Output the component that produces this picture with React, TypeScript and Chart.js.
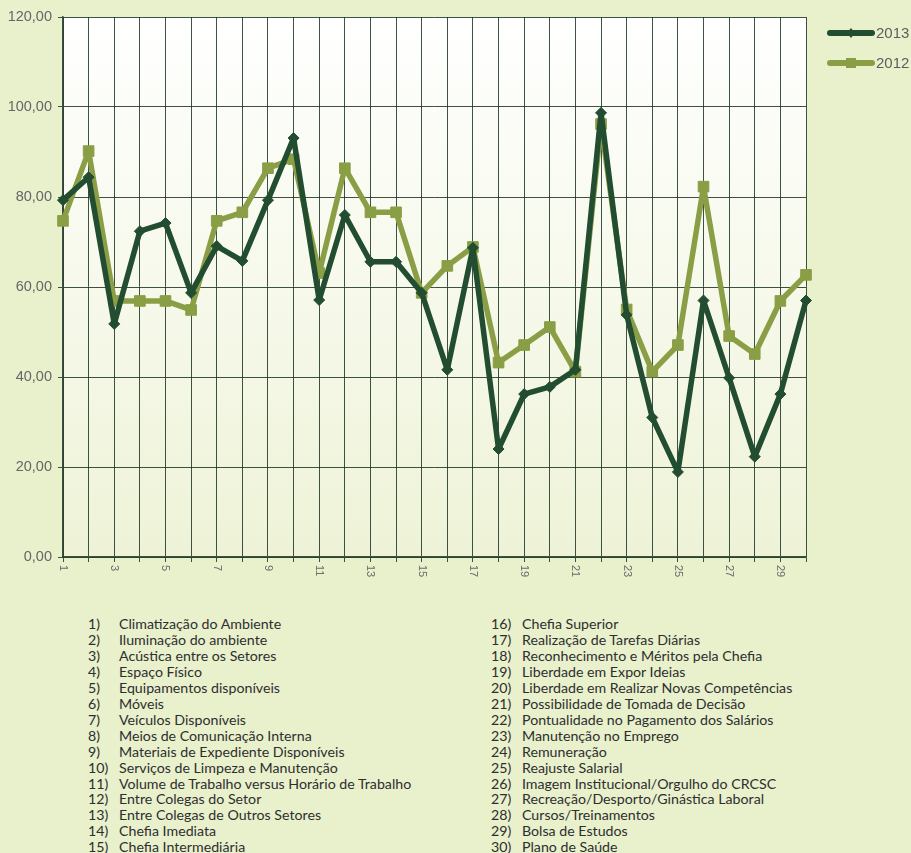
import React, { useEffect, useRef } from "react";
import { Chart, registerables } from "chart.js";

Chart.register(...registerables);

const categories = Array.from({ length: 30 }, (_, i) => String(i + 1));

const series2013 = [
  79.3, 84.4, 51.8, 72.4, 74.2, 58.7, 69.1, 65.8, 79.3, 93.1,
  57.1, 76.0, 65.6, 65.6, 58.7, 41.6, 68.7, 24.0, 36.2, 37.8,
  41.6, 98.7, 53.8, 31.0, 18.9, 57.0, 39.8, 22.3, 36.2, 57.0,
];

const series2012 = [
  74.7, 90.2, 56.9, 56.9, 56.9, 54.9, 74.7, 76.6, 86.4, 88.4,
  63.1, 86.4, 76.6, 76.6, 58.7, 64.7, 68.9, 43.2, 47.1, 51.1,
  41.2, 96.2, 55.0, 41.2, 47.1, 82.3, 49.1, 45.1, 56.9, 62.7,
];

const seriesNames = ["2013", "2012"];

const yTicks = [0, 20, 40, 60, 80, 100, 120];

const itemNames = [
  "Climatização do Ambiente",
  "Iluminação do ambiente",
  "Acústica entre os Setores",
  "Espaço Físico",
  "Equipamentos disponíveis",
  "Móveis",
  "Veículos Disponíveis",
  "Meios de Comunicação Interna",
  "Materiais de Expediente Disponíveis",
  "Serviços de Limpeza e Manutenção",
  "Volume de Trabalho versus Horário de Trabalho",
  "Entre Colegas do Setor",
  "Entre Colegas de Outros Setores",
  "Chefia Imediata",
  "Chefia Intermediária",
  "Chefia Superior",
  "Realização de Tarefas Diárias",
  "Reconhecimento e Méritos pela Chefia",
  "Liberdade em Expor Ideias",
  "Liberdade em Realizar Novas Competências",
  "Possibilidade de Tomada de Decisão",
  "Pontualidade no Pagamento dos Salários",
  "Manutenção no Emprego",
  "Remuneração",
  "Reajuste Salarial",
  "Imagem Institucional/Orgulho do CRCSC",
  "Recreação/Desporto/Ginástica Laboral",
  "Cursos/Treinamentos",
  "Bolsa de Estudos",
  "Plano de Saúde",
];

const DARK = "#234d31";
const LIGHT = "#8a9e45";
const BG = "#e8f0cc";
const GRID = "rgba(28,52,36,0.85)";

const bgPlugin = {
  id: "plotBg",
  beforeDraw(chart: any) {
    const { ctx, chartArea } = chart;
    if (!chartArea) return;
    const g = ctx.createLinearGradient(0, chartArea.top, 0, chartArea.bottom);
    g.addColorStop(0, "#ffffff");
    g.addColorStop(1, "#eef3d7");
    ctx.save();
    ctx.fillStyle = g;
    ctx.fillRect(chartArea.left, chartArea.top, chartArea.right - chartArea.left, chartArea.bottom - chartArea.top);
    ctx.restore();
  },
};

const xLabelPlugin = {
  id: "xLabels",
  afterDraw(chart: any) {
    const { ctx, chartArea } = chart;
    const xs = chart.scales.x;
    ctx.save();
    ctx.fillStyle = "#6b6b6b";
    ctx.font = "11px 'Liberation Sans', Arial, sans-serif";
    ctx.textAlign = "left";
    ctx.textBaseline = "middle";
    categories.forEach((c, i) => {
      if (i % 2 !== 0) return;
      const x = xs.getPixelForValue(i);
      ctx.save();
      ctx.translate(x, chartArea.bottom + 8);
      ctx.rotate(Math.PI / 2);
      ctx.fillText(c, 0, 0);
      ctx.restore();
    });
    ctx.restore();
  },
};

const legendPlugin = {
  id: "customLegend",
  afterDraw(chart: any) {
    const { ctx } = chart;
    ctx.save();
    chart.data.datasets.forEach((ds: any, i: number) => {
      const y = 33 + i * 30;
      const x0 = 830;
      const x1 = 872;
      ctx.strokeStyle = ds.borderColor;
      ctx.lineWidth = 6;
      ctx.lineCap = "round";
      ctx.beginPath();
      ctx.moveTo(x0, y);
      ctx.lineTo(x1, y);
      ctx.stroke();
      const cx = (x0 + x1) / 2;
      ctx.fillStyle = ds.pointBackgroundColor;
      ctx.beginPath();
      if (ds.pointStyle === "rectRot") {
        ctx.moveTo(cx, y - 5);
        ctx.lineTo(cx + 4, y);
        ctx.lineTo(cx, y + 5);
        ctx.lineTo(cx - 4, y);
        ctx.closePath();
      } else {
        ctx.rect(cx - 5, y - 5, 10, 10);
      }
      ctx.fill();
      ctx.fillStyle = "#5e5e5e";
      ctx.font = "15px 'Liberation Sans', Arial, sans-serif";
      ctx.textAlign = "left";
      ctx.textBaseline = "middle";
      ctx.fillText(ds.label, 876, y + 1);
    });
    ctx.restore();
  },
};

function ChartBox() {
  const ref = useRef<HTMLCanvasElement | null>(null);
  useEffect(() => {
    if (!ref.current) return;
    const chart = new Chart(ref.current, {
      type: "line",
      data: {
        labels: categories,
        datasets: [
          {
            label: seriesNames[0],
            data: series2013,
            borderColor: DARK,
            backgroundColor: DARK,
            pointBackgroundColor: DARK,
            pointBorderColor: DARK,
            borderWidth: 5.5,
            borderJoinStyle: "round",
            pointStyle: "rectRot",
            pointRadius: 5.5,
            pointBorderWidth: 1,
            tension: 0,
          },
          {
            label: seriesNames[1],
            data: series2012,
            borderColor: LIGHT,
            backgroundColor: LIGHT,
            pointBackgroundColor: LIGHT,
            pointBorderColor: LIGHT,
            borderWidth: 5.5,
            borderJoinStyle: "round",
            pointStyle: "rect",
            pointRadius: 7.5,
            pointBorderWidth: 1,
            tension: 0,
          },
        ],
      },
      options: {
        animation: false,
        responsive: false,
        maintainAspectRatio: false,
        layout: { padding: { top: 17, right: 105, left: 0, bottom: 0 } },
        plugins: {
          legend: { display: false },
          tooltip: { enabled: false },
        },
        scales: {
          x: {
            offset: false,
            grid: { color: GRID, lineWidth: 1, tickLength: 5, drawTicks: true, offset: false },
            border: { color: GRID, width: 1.5 },
            ticks: { display: false, autoSkip: false },
            afterFit(scale: any) {
              scale.height = 43;
            },
          },
          y: {
            min: 0,
            max: 120,
            afterBuildTicks(scale: any) {
              scale.ticks = yTicks.map((v) => ({ value: v }));
            },
            grid: { color: GRID, lineWidth: 1, tickLength: 5 },
            border: { color: GRID, width: 1.5 },
            ticks: {
              color: "#666666",
              padding: 6,
              font: { family: "'Liberation Sans', Arial, sans-serif", size: 14.5 },
              callback: (v: any) => Number(v).toFixed(2).replace(".", ","),
            },
            afterFit(scale: any) {
              scale.width = 63;
            },
          },
        },
      },
      plugins: [bgPlugin, xLabelPlugin, legendPlugin],
    });
    return () => chart.destroy();
  }, []);
  return <canvas ref={ref} width={911} height={600} style={{ position: "absolute", left: 0, top: 0, width: 911, height: 600 }} />;
}

export default function App() {
  const rowH = 15.95;
  const listStyle: React.CSSProperties = {
    position: "absolute",
    fontFamily: "Lato, 'Open Sans', sans-serif",
    fontSize: 14.2,
    color: "#2e2e2e",
    lineHeight: rowH + "px",
    whiteSpace: "nowrap",
  };
  const col = (start: number, numX: number, textX: number) =>
    itemNames.slice(start, start + 15).map((name, j) => (
      <React.Fragment key={start + j}>
        <div style={{ ...listStyle, left: numX, top: 616 + j * rowH }}>{start + j + 1})</div>
        <div style={{ ...listStyle, left: textX, top: 616 + j * rowH }}>{name}</div>
      </React.Fragment>
    ));
  return (
    <div style={{ position: "absolute", left: 0, top: 0, width: 911, height: 853, background: BG, overflow: "hidden" }}>
      <ChartBox />
      {col(0, 88, 119)}
      {col(15, 491, 522)}
    </div>
  );
}
